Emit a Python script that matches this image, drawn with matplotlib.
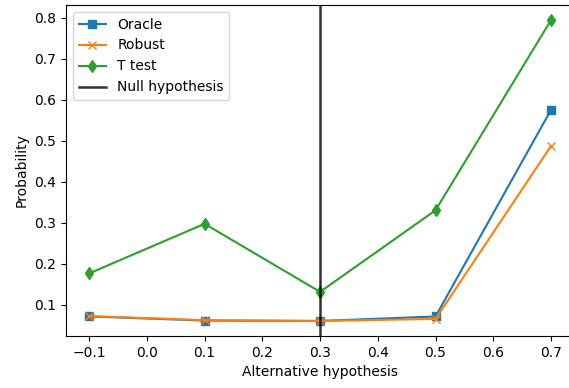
import matplotlib.pyplot as plt

# Valores
alternativas = [-0.1, 0.1, 0.3, 0.5, 0.7]
oracle = [0.071, 0.061, 0.060, 0.071, 0.575]
robust = [0.072, 0.062, 0.060, 0.065, 0.487]
t_test = [0.176, 0.297, 0.131, 0.330, 0.794]
hipotese_nula = 0.3


def gerar_grafico():
    fig, ax = plt.subplots(figsize=(5.69, 3.88), dpi=100)
    ax.plot(alternativas, oracle, marker='s', label='Oracle')
    ax.plot(alternativas, robust, marker='x', label='Robust')
    ax.plot(alternativas, t_test, marker='d', label='T test')
    ax.axvline(hipotese_nula, color='black', alpha=0.8, lw=1.8, label='Null hypothesis')
    ax.set_xlabel('Alternative hypothesis')
    ax.set_ylabel('Probability')
    ax.legend(loc='upper left')
    # o eixo passa um pouco da borda direita, como no original
    fig.subplots_adjust(left=0.116, right=1.009, top=0.987, bottom=0.134)
    fig.savefig('out.png')
    plt.close(fig)


gerar_grafico()
